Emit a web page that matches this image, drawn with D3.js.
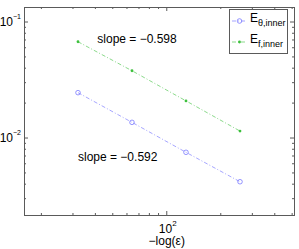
<!DOCTYPE html>
<html>
<head>
<meta charset="utf-8">
<script src="https://cdn.jsdelivr.net/npm/d3@7"></script>
<style>
  body { margin: 0; background: #fff; }
  svg { display: block; font-family: "Liberation Sans", Arial, sans-serif; }
</style>
</head>
<body>
<div id="chart"></div>
<script>
// Data
const xValues = [32, 64, 128, 256];
const thetaInner = [0.0246, 0.01365, 0.00753, 0.0042];
const fInner = [0.0676, 0.038, 0.0209, 0.01148];
const seriesNames = ['θ,inner', 'f,inner'];
const slopeLabels = ['slope = −0.598', 'slope = −0.592'];
const slopePos = [[41, 0.066], [32, 0.0064]];
const xMajor = [100];
const yMajor = [0.1, 0.01];

const width = 299, height = 249;
const margin = { top: 7, right: 5, bottom: 34, left: 24 };
const innerWidth = width - margin.left - margin.right;
const innerHeight = height - margin.top - margin.bottom;

const svg = d3.select('#chart')
  .append('svg')
  .attr('width', width)
  .attr('height', height);

const g = svg.append('g')
  .attr('transform', `translate(${margin.left},${margin.top})`);

// Scales
const x = d3.scaleLog().domain([16, 512]).range([0, innerWidth]);
const y = d3.scaleLog().domain([0.00217, 0.1347]).range([innerHeight, 0]);

const axisColor = '#5a5a5a';

// Minor / major ticks (inside, all four sides)
const xMinor = [];
for (const d of [10, 100]) for (let k = 1; k < 10; k++) {
  const v = d * k;
  if (v > 16 && v < 512 && !xMajor.includes(v)) xMinor.push(v);
}
const yMinor = [];
for (const d of [0.001, 0.01, 0.1]) for (let k = 1; k < 10; k++) {
  const v = +(d * k).toPrecision(3);
  if (v > 0.00217 && v < 0.1347 && !yMajor.includes(v)) yMinor.push(v);
}

const ticks = g.append('g').attr('stroke', axisColor).attr('stroke-width', 1);
function xTick(v, len) {
  ticks.append('line').attr('x1', x(v)).attr('x2', x(v)).attr('y1', innerHeight).attr('y2', innerHeight - len);
  ticks.append('line').attr('x1', x(v)).attr('x2', x(v)).attr('y1', 0).attr('y2', len);
}
function yTick(v, len) {
  ticks.append('line').attr('y1', y(v)).attr('y2', y(v)).attr('x1', 0).attr('x2', len);
  ticks.append('line').attr('y1', y(v)).attr('y2', y(v)).attr('x1', innerWidth).attr('x2', innerWidth - len);
}
xMinor.forEach(v => xTick(v, 2));
xMajor.forEach(v => xTick(v, 4));
yMinor.forEach(v => yTick(v, 2));
yMajor.forEach(v => yTick(v, 4));

// Box
g.append('rect')
  .attr('x', 0.5).attr('y', 0.5)
  .attr('width', innerWidth).attr('height', innerHeight)
  .attr('fill', 'none')
  .attr('stroke', axisColor)
  .attr('stroke-width', 1);

// Tick labels
yMajor.forEach(v => {
  const t = g.append('text')
    .attr('x', -3)
    .attr('y', y(v) + 4)
    .attr('text-anchor', 'end')
    .style('font-size', '12px')
    .attr('fill', '#000');
  t.append('tspan').text('10');
  t.append('tspan').attr('dy', -7).style('font-size', '7px').text('−' + Math.round(-Math.log10(v)));
});
xMajor.forEach(v => {
  const t = g.append('text')
    .attr('x', x(v) + 1)
    .attr('y', innerHeight + 18)
    .attr('text-anchor', 'middle')
    .style('font-size', '12px')
    .attr('fill', '#000');
  t.append('tspan').text('10');
  t.append('tspan').attr('dy', -7).style('font-size', '8px').text(Math.round(Math.log10(v)));
});

// Axis label
g.append('text')
  .attr('x', x(100))
  .attr('y', innerHeight + 30)
  .attr('text-anchor', 'middle')
  .style('font-size', '12px')
  .text('−log(ε)');

// Series
const series = [
  { values: thetaInner, color: '#6a6aff', marker: 'circle' },
  { values: fInner, color: '#3cc03c', marker: 'dot' }
];

const line = d3.line()
  .x(d => x(d[0]))
  .y(d => y(d[1]));

function drawMarker(sel, s, cx, cy) {
  if (s.marker === 'circle') {
    sel.append('circle').attr('cx', cx).attr('cy', cy).attr('r', 2.3)
      .attr('fill', 'none').attr('stroke', s.color).attr('stroke-width', 0.7);
  } else {
    sel.append('circle').attr('cx', cx).attr('cy', cy).attr('r', 1.4)
      .attr('fill', s.color).attr('stroke', 'none');
  }
}

series.forEach(s => {
  const pts = xValues.map((xv, i) => [xv, s.values[i]]);
  g.append('path')
    .datum(pts)
    .attr('fill', 'none')
    .attr('stroke', s.color)
    .attr('stroke-width', 0.6)
    .attr('stroke-dasharray', '4,2,1,2')
    .attr('d', line);
  pts.forEach(p => drawMarker(g, s, x(p[0]), y(p[1])));
});

// Slope annotations
slopeLabels.forEach((label, i) => {
  g.append('text')
    .attr('x', x(slopePos[i][0]))
    .attr('y', y(slopePos[i][1]))
    .style('font-size', '12px')
    .text(label);
});

// Legend
const legend = g.append('g').attr('transform', `translate(${205},${2})`);
legend.append('rect')
  .attr('x', 0.5).attr('y', 0.5)
  .attr('width', 58).attr('height', 44)
  .attr('fill', '#fff')
  .attr('stroke', axisColor)
  .attr('stroke-width', 1);

series.forEach((s, i) => {
  const cy = 12 + i * 21;
  legend.append('line')
    .attr('x1', 3).attr('x2', 18)
    .attr('y1', cy).attr('y2', cy)
    .attr('stroke', s.color)
    .attr('stroke-width', 0.6)
    .attr('stroke-dasharray', '4,2,1,2');
  drawMarker(legend, s, 10.5, cy);
  const t = legend.append('text')
    .attr('x', 21)
    .attr('y', cy + 1)
    .style('font-size', '12px');
  t.append('tspan').text('E');
  t.append('tspan').attr('dy', 4).style('font-size', '9px').text(seriesNames[i]);
});
</script>
</body>
</html>
